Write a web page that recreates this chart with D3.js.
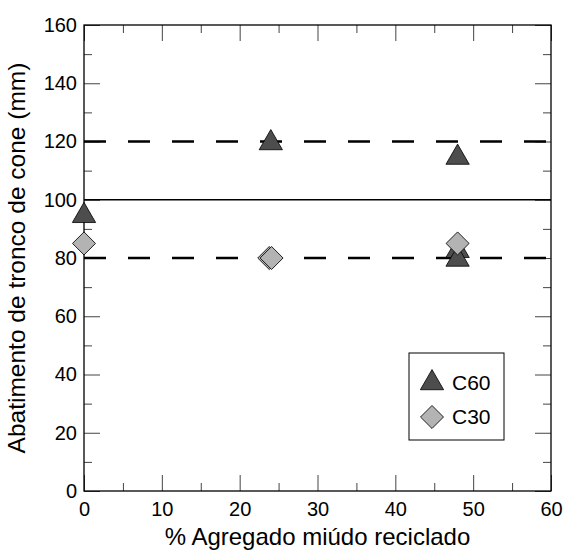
<!DOCTYPE html>
<html>
<head>
<meta charset="utf-8">
<script src="https://cdn.jsdelivr.net/npm/d3@7"></script>
<style>
  body { margin: 0; background: #fff; }
  svg { font-family: 'Liberation Sans', Arial, sans-serif; }
</style>
</head>
<body>
<svg id="chart" width="563" height="550"></svg>
<script>
// series values
const c60X = [0, 24, 48, 48, 48];
const c60Y = [95, 120, 115, 83, 80];
const c30X = [0, 23.8, 24.1, 48];
const c30Y = [85, 80, 80, 85];

// reference lines
const dashedLevels = [120, 80];
const solidLevels = [100];

// ticks
const xMajor = [0, 10, 20, 30, 40, 50, 60];
const xMinor = [5, 15, 25, 35, 45, 55];
const yMajor = [0, 20, 40, 60, 80, 100, 120, 140, 160];
const yMinor = [10, 30, 50, 70, 90, 110, 130, 150];

const legendNames = ['C60', 'C30'];

const svg = d3.select('#chart');
const margin = { top: 25, right: 12, bottom: 59, left: 84 };
const width = 563 - margin.left - margin.right;
const height = 550 - margin.top - margin.bottom;

const x = d3.scaleLinear().domain([0, 60]).range([0, width]);
const y = d3.scaleLinear().domain([0, 160]).range([height, 0]);

const g = svg.append('g').attr('transform', `translate(${margin.left},${margin.top})`);

// inward ticks on all four sides
function ticks(axis, vals, len) {
  return axis.tickValues(vals).tickSizeInner(-len).tickSizeOuter(0).tickFormat('');
}

const tickGroups = [
  g.append('g').attr('transform', `translate(0,${height})`).call(ticks(d3.axisBottom(x), xMajor, 16)),
  g.append('g').attr('transform', `translate(0,${height})`).call(ticks(d3.axisBottom(x), xMinor, 8)),
  g.append('g').call(ticks(d3.axisTop(x), xMajor, 16)),
  g.append('g').call(ticks(d3.axisTop(x), xMinor, 8)),
  g.append('g').call(ticks(d3.axisLeft(y), yMajor, 16)),
  g.append('g').call(ticks(d3.axisLeft(y), yMinor, 8)),
  g.append('g').attr('transform', `translate(${width},0)`).call(ticks(d3.axisRight(y), yMajor, 16)),
  g.append('g').attr('transform', `translate(${width},0)`).call(ticks(d3.axisRight(y), yMinor, 8)),
];
tickGroups.forEach((s) => {
  s.select('.domain').remove();
  s.selectAll('line').attr('stroke', '#444').attr('stroke-width', 1);
});

// tick labels
const xLab = g.append('g').attr('transform', `translate(0,${height})`)
  .call(d3.axisBottom(x).tickValues(xMajor).tickSize(0).tickPadding(11));
xLab.select('.domain').remove();
xLab.selectAll('text').attr('font-size', 20).attr('fill', '#000').attr('font-family', null);

const yLab = g.append('g')
  .call(d3.axisLeft(y).tickValues(yMajor).tickSize(0).tickPadding(7));
yLab.select('.domain').remove();
yLab.selectAll('text').attr('font-size', 20).attr('fill', '#000').attr('font-family', null);

// frame
g.append('rect')
  .attr('width', width).attr('height', height)
  .attr('fill', 'none').attr('stroke', '#000').attr('stroke-width', 1.3);

// reference lines
g.selectAll('.dash').data(dashedLevels).enter().append('line')
  .attr('x1', 0).attr('x2', width)
  .attr('y1', (d) => y(d)).attr('y2', (d) => y(d))
  .attr('stroke', '#000').attr('stroke-width', 2.5)
  .attr('stroke-dasharray', '22,22');

g.selectAll('.solid').data(solidLevels).enter().append('line')
  .attr('x1', 0).attr('x2', width)
  .attr('y1', (d) => y(d)).attr('y2', (d) => y(d))
  .attr('stroke', '#000').attr('stroke-width', 1.5);

// markers
const tri = d3.symbol().type(d3.symbolTriangle).size(235);
const dia = d3.symbol().type(d3.symbolSquare).size(265);

const c60 = c60X.map((v, i) => ({ x: v, y: c60Y[i] }));
const c30 = c30X.map((v, i) => ({ x: v, y: c30Y[i] }));

g.selectAll('.c60').data(c60).enter().append('path')
  .attr('d', tri)
  .attr('transform', (d) => `translate(${x(d.x)},${y(d.y) + 1.5})`)
  .attr('fill', '#4d4d4d').attr('stroke', '#000').attr('stroke-width', 0.8);

g.selectAll('.c30').data(c30).enter().append('path')
  .attr('d', dia)
  .attr('transform', (d) => `translate(${x(d.x)},${y(d.y)}) rotate(45)`)
  .attr('fill', '#b3b3b3').attr('stroke', '#000').attr('stroke-width', 0.8);

// legend
const lg = g.append('g').attr('transform', `translate(${409 - margin.left},${353 - margin.top})`);
lg.append('rect').attr('width', 95).attr('height', 87)
  .attr('fill', '#fff').attr('stroke', '#000').attr('stroke-width', 1);
lg.append('path').attr('d', tri).attr('transform', 'translate(23,30)')
  .attr('fill', '#4d4d4d').attr('stroke', '#000').attr('stroke-width', 0.8);
lg.append('path').attr('d', dia).attr('transform', 'translate(23,64) rotate(45)')
  .attr('fill', '#b3b3b3').attr('stroke', '#000').attr('stroke-width', 0.8);
lg.selectAll('text').data(legendNames).enter().append('text')
  .attr('x', 43).attr('y', (d, i) => 37 + i * 34)
  .attr('font-size', 21).text((d) => d);

// axis titles
svg.append('text')
  .attr('x', margin.left + width / 2).attr('y', 545)
  .attr('text-anchor', 'middle').attr('font-size', 24)
  .text('% Agregado miúdo reciclado');

svg.append('text')
  .attr('transform', `translate(25,${margin.top + height / 2}) rotate(-90)`)
  .attr('text-anchor', 'middle').attr('font-size', 24.5)
  .text('Abatimento de tronco de cone (mm)');
</script>
</body>
</html>
